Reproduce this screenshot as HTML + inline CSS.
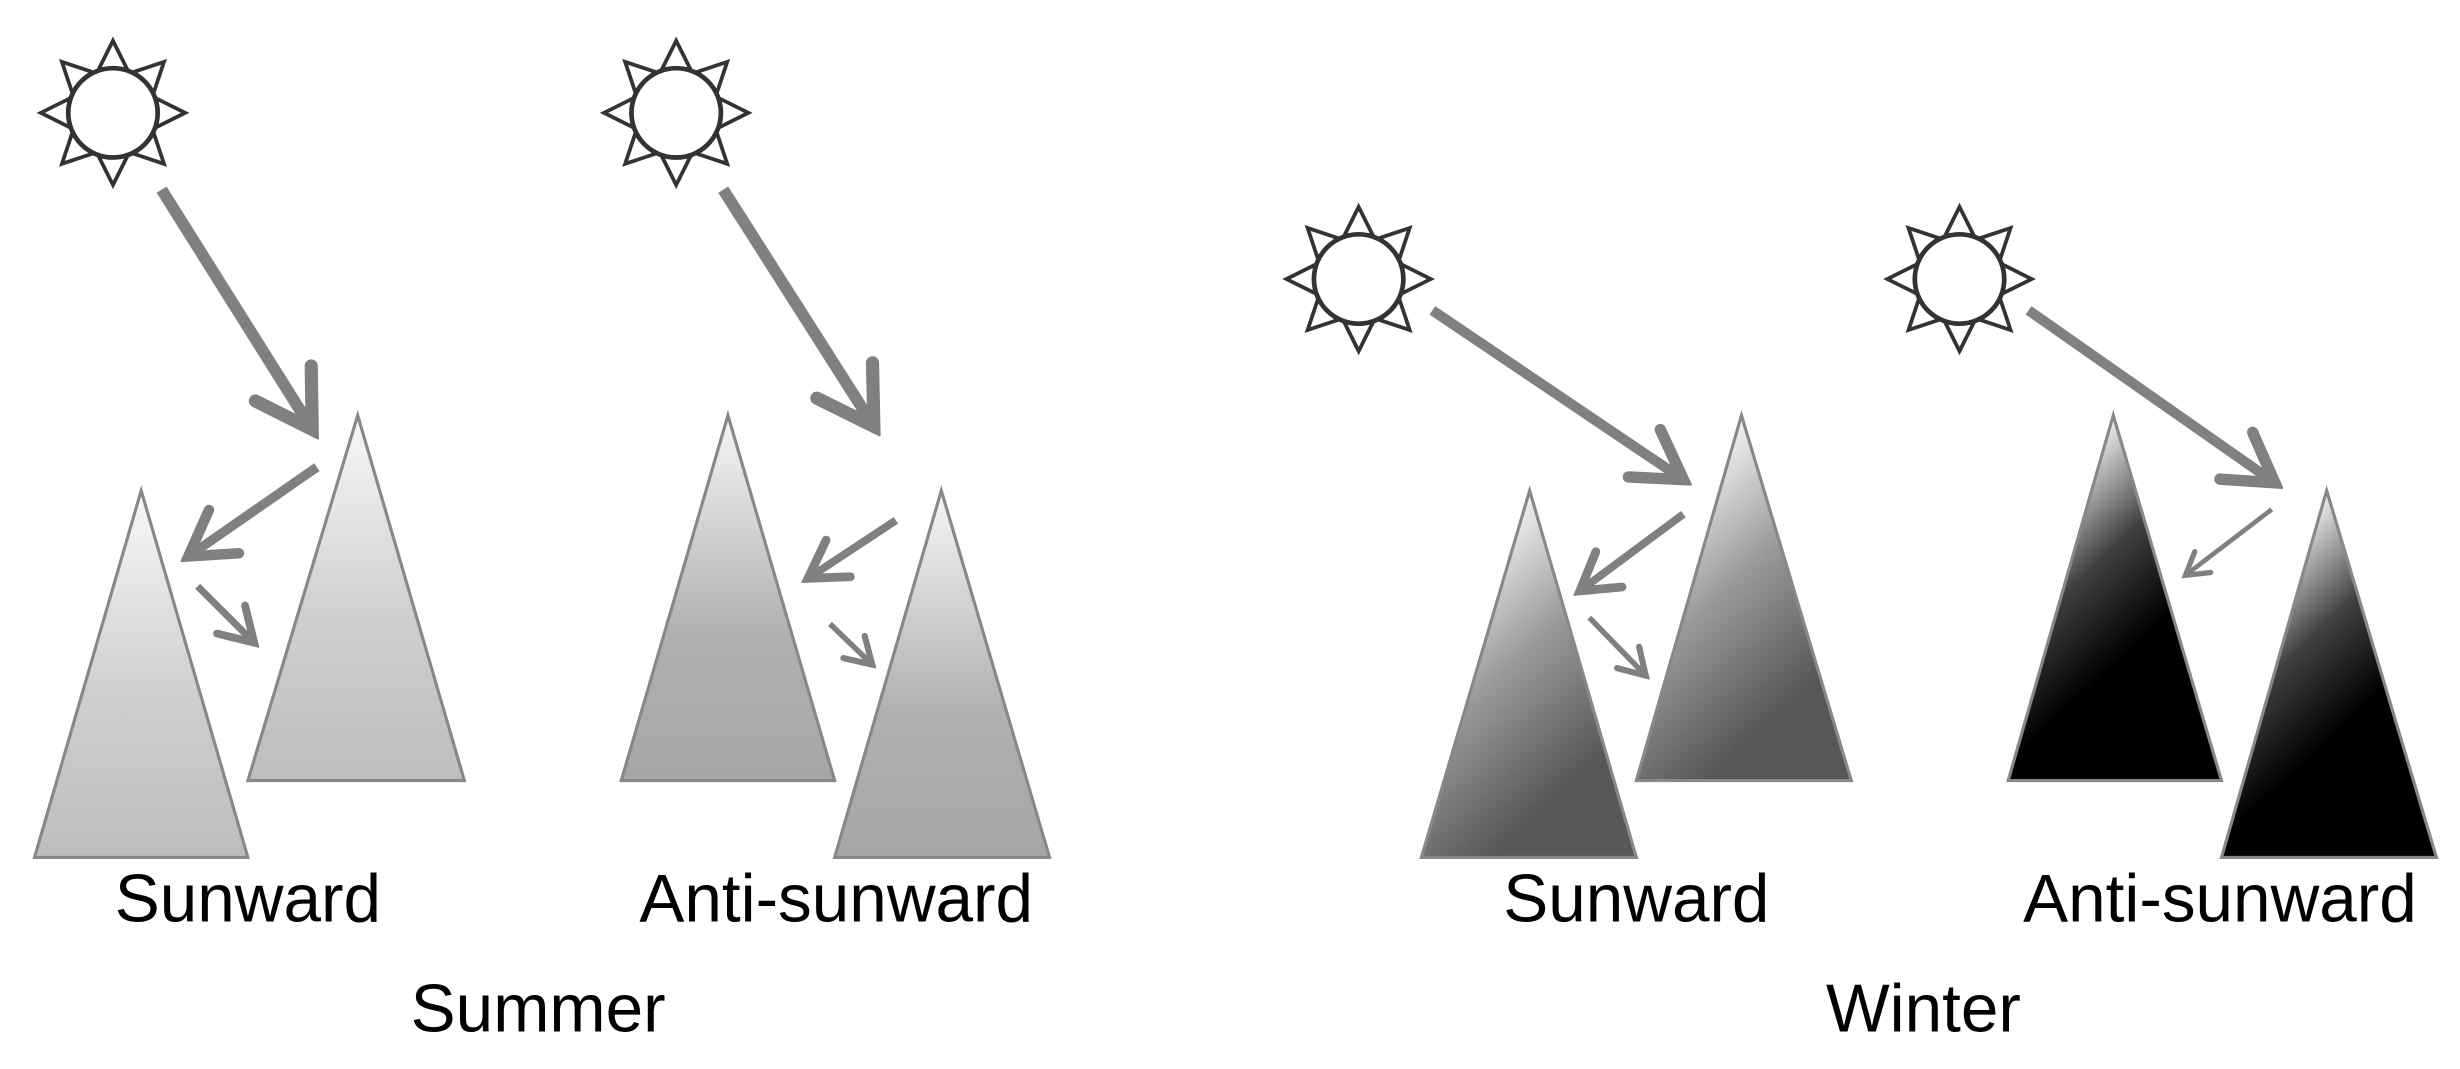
<!DOCTYPE html>
<html><head><meta charset="utf-8"><style>
html,body{margin:0;padding:0;background:#fff;}
svg{display:block;}
text{font-family:"Liberation Sans",Arial,sans-serif;fill:#000;}
</style></head><body>
<svg width="2460" height="1069" viewBox="0 0 1568 682" preserveAspectRatio="none" xmlns="http://www.w3.org/2000/svg">
<defs>
<marker id="ah" viewBox="0 0 10 10" refX="8.6" refY="5" markerWidth="7" markerHeight="7" orient="auto" markerUnits="strokeWidth">
<path d="M2,1 L8.6,5 L2,9" fill="none" stroke="#808080" stroke-width="1.6" stroke-linecap="round" stroke-linejoin="miter"/>
</marker>
<linearGradient id="gs" x1="0" y1="0" x2="0" y2="1"><stop offset="0" stop-color="#f8f8f8"/><stop offset="0.55" stop-color="#cfcfcf"/><stop offset="1" stop-color="#bdbdbd"/></linearGradient>
<linearGradient id="ga" x1="0" y1="0" x2="0" y2="1"><stop offset="0" stop-color="#f6f6f6"/><stop offset="0.6" stop-color="#b0b0b0"/><stop offset="1" stop-color="#a6a6a6"/></linearGradient>
<linearGradient id="gw" x1="0.3" y1="0.05" x2="0.7" y2="0.8"><stop offset="0" stop-color="#ffffff"/><stop offset="0.5" stop-color="#9a9a9a"/><stop offset="1" stop-color="#575757"/></linearGradient>
<linearGradient id="gk" x1="0.35" y1="0.05" x2="0.65" y2="0.6"><stop offset="0" stop-color="#ffffff"/><stop offset="0.55" stop-color="#404040"/><stop offset="1" stop-color="#000000"/></linearGradient>
<g id="sun" fill="#fff" stroke="#333" stroke-width="2.4" stroke-linejoin="miter">
<polygon points="0,-46 -9,-28 9,-28"/>
<polygon points="0,-46 -9,-28 9,-28" transform="rotate(45)"/>
<polygon points="0,-46 -9,-28 9,-28" transform="rotate(90)"/>
<polygon points="0,-46 -9,-28 9,-28" transform="rotate(135)"/>
<polygon points="0,-46 -9,-28 9,-28" transform="rotate(180)"/>
<polygon points="0,-46 -9,-28 9,-28" transform="rotate(225)"/>
<polygon points="0,-46 -9,-28 9,-28" transform="rotate(270)"/>
<polygon points="0,-46 -9,-28 9,-28" transform="rotate(315)"/>
<circle r="28.5" stroke-width="3"/>
</g>
</defs>

<use href="#sun" x="72" y="72"/>
<use href="#sun" x="431" y="72"/>
<use href="#sun" x="866" y="178"/>
<use href="#sun" x="1249" y="178"/>

<g stroke="#888" stroke-width="2">
<polygon points="90,313 22,547 158,547" fill="url(#gs)"/>
<polygon points="228,265 158,498 296,498" fill="url(#gs)"/>
<polygon points="464,265 396,498 532,498" fill="url(#ga)"/>
<polygon points="600,313 532,547 669,547" fill="url(#ga)"/>
<polygon points="975,313 906,547 1043,547" fill="url(#gw)"/>
<polygon points="1110,265 1043,498 1180,498" fill="url(#gw)"/>
<polygon points="1347,265 1280,498 1416,498" fill="url(#gk)"/>
<polygon points="1483,313 1416,547 1553,547" fill="url(#gk)"/>
</g>

<g stroke="#808080" fill="none" marker-end="url(#ah)">
<line x1="103" y1="121" x2="199" y2="274" stroke-width="7.5"/>
<line x1="461" y1="121" x2="557" y2="272" stroke-width="7.5"/>
<line x1="202" y1="298" x2="120" y2="355" stroke-width="6"/>
<line x1="126" y1="374" x2="162" y2="410" stroke-width="4.5"/>
<line x1="571" y1="332" x2="515" y2="369" stroke-width="5"/>
<line x1="529" y1="398" x2="556" y2="424" stroke-width="3.5"/>
<line x1="913" y1="198" x2="1073" y2="306" stroke-width="6.5"/>
<line x1="1073" y1="328" x2="1007" y2="377" stroke-width="5"/>
<line x1="1013" y1="394" x2="1049" y2="431" stroke-width="3.5"/>
<line x1="1293" y1="198" x2="1450" y2="308" stroke-width="6.5"/>
<line x1="1448" y1="325" x2="1393" y2="367" stroke-width="3"/>
</g>

<g font-size="43" text-anchor="middle">
<text x="158" y="588">Sunward</text>
<text x="533" y="588">Anti-sunward</text>
<text x="1043" y="588">Sunward</text>
<text x="1415" y="588">Anti-sunward</text>
<text x="343" y="658">Summer</text>
<text x="1226" y="658">Winter</text>
</g>
</svg>
</body></html>
